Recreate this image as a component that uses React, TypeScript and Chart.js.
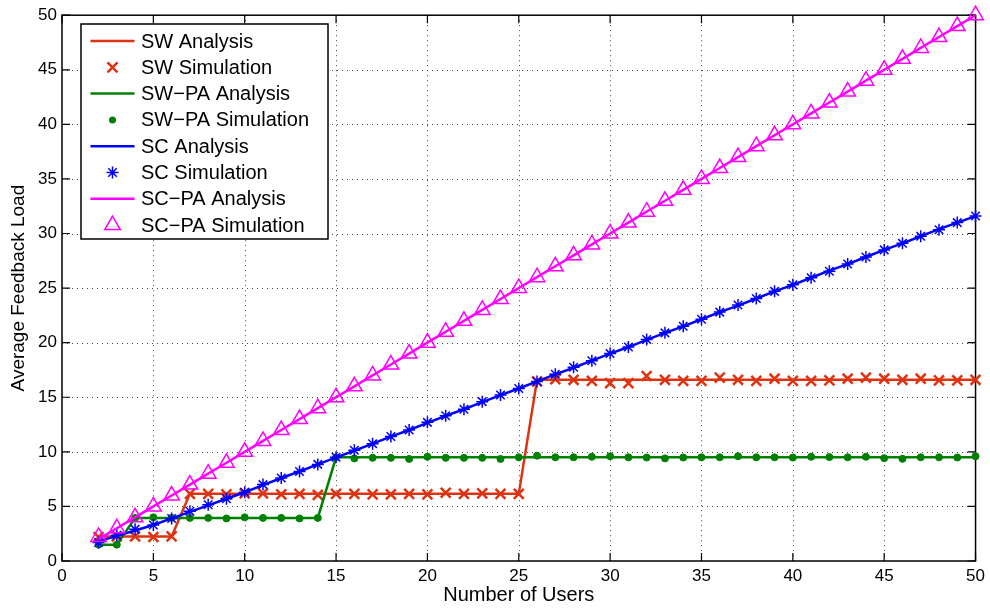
import React, { useEffect, useRef } from "react";
import { Chart, registerables } from "chart.js";

Chart.register(...registerables);

const users = [2, 3, 4, 5, 6, 7, 8, 9, 10, 11, 12, 13, 14, 15, 16, 17, 18, 19, 20, 21, 22, 23, 24, 25, 26, 27, 28, 29, 30, 31, 32, 33, 34, 35, 36, 37, 38, 39, 40, 41, 42, 43, 44, 45, 46, 47, 48, 49, 50];

const swAnalysis = [2.25, 2.25, 2.25, 2.25, 2.25, 6.15, 6.15, 6.15, 6.15, 6.15, 6.15, 6.15, 6.15, 6.15, 6.15, 6.15, 6.15, 6.15, 6.15, 6.15, 6.15, 6.15, 6.15, 6.15, 16.6, 16.6, 16.6, 16.6, 16.6, 16.6, 16.6, 16.6, 16.6, 16.6, 16.6, 16.6, 16.6, 16.6, 16.6, 16.6, 16.6, 16.6, 16.6, 16.6, 16.6, 16.6, 16.6, 16.6, 16.6];
const swSim = [2.2, 2.25, 2.25, 2.2, 2.25, 6.15, 6.15, 6.1, 6.2, 6.2, 6.1, 6.15, 6.05, 6.15, 6.15, 6.1, 6.1, 6.15, 6.1, 6.25, 6.15, 6.2, 6.15, 6.15, 16.45, 16.65, 16.6, 16.5, 16.3, 16.3, 16.95, 16.6, 16.5, 16.5, 16.8, 16.6, 16.5, 16.7, 16.5, 16.5, 16.55, 16.7, 16.8, 16.7, 16.6, 16.7, 16.55, 16.55, 16.6];

const swpaAnalysis = [1.5, 1.5, 3.95, 3.95, 3.95, 3.95, 3.95, 3.95, 3.95, 3.95, 3.95, 3.95, 3.95, 9.5, 9.5, 9.5, 9.5, 9.5, 9.5, 9.5, 9.5, 9.5, 9.5, 9.5, 9.5, 9.5, 9.5, 9.5, 9.5, 9.5, 9.5, 9.5, 9.5, 9.5, 9.5, 9.5, 9.5, 9.5, 9.5, 9.5, 9.5, 9.5, 9.5, 9.5, 9.5, 9.5, 9.5, 9.5, 9.5];
const swpaSim = [1.5, 1.5, 3.95, 4.0, 3.95, 3.95, 3.95, 3.9, 4.0, 3.95, 3.95, 3.9, 3.95, 9.5, 9.4, 9.45, 9.45, 9.35, 9.55, 9.45, 9.45, 9.45, 9.35, 9.5, 9.65, 9.5, 9.5, 9.55, 9.6, 9.5, 9.48, 9.4, 9.48, 9.5, 9.5, 9.6, 9.5, 9.5, 9.48, 9.55, 9.52, 9.5, 9.55, 9.42, 9.36, 9.5, 9.5, 9.48, 9.6];

const scAnalysis = [1.8, 2.3, 2.8, 3.3, 3.9, 4.5, 5.1, 5.7, 6.3, 6.95, 7.6, 8.2, 8.85, 9.5, 10.1, 10.75, 11.4, 12.0, 12.65, 13.3, 13.9, 14.55, 15.2, 15.8, 16.45, 17.1, 17.7, 18.35, 19.0, 19.6, 20.25, 20.9, 21.5, 22.15, 22.8, 23.4, 24.05, 24.7, 25.3, 25.95, 26.6, 27.2, 27.85, 28.5, 29.1, 29.75, 30.4, 31.0, 31.6];
const scSim = [1.7, 2.35, 2.9, 3.3, 3.9, 4.55, 5.15, 5.7, 6.3, 7.0, 7.6, 8.2, 8.85, 9.5, 10.15, 10.75, 11.4, 12.0, 12.7, 13.3, 13.9, 14.6, 15.2, 15.8, 16.45, 17.1, 17.75, 18.35, 19.0, 19.6, 20.3, 20.9, 21.5, 22.15, 22.8, 23.45, 24.05, 24.7, 25.3, 25.95, 26.55, 27.2, 27.85, 28.5, 29.1, 29.75, 30.35, 31.0, 31.6];

const scpaAnalysis = [2, 3, 4, 5, 6, 7, 8, 9, 10, 11, 12, 13, 14, 15, 16, 17, 18, 19, 20, 21, 22, 23, 24, 25, 26, 27, 28, 29, 30, 31, 32, 33, 34, 35, 36, 37, 38, 39, 40, 41, 42, 43, 44, 45, 46, 47, 48, 49, 50];
const scpaSim = [2.2, 3, 4, 5, 6, 7, 8, 9, 10, 11, 12, 13, 14, 15, 16, 17, 18, 19, 20, 21, 22, 23, 24, 25, 26, 27, 28, 29, 30, 31, 32, 33, 34, 35, 36, 37, 38, 39, 40, 41, 42, 43, 44, 45, 46, 47, 48, 49, 50];

const xTicks = [0, 5, 10, 15, 20, 25, 30, 35, 40, 45, 50];
const yTicks = [0, 5, 10, 15, 20, 25, 30, 35, 40, 45, 50];

const legendLabels = [
  "SW Analysis",
  "SW Simulation",
  "SW\u2212PA Analysis",
  "SW\u2212PA Simulation",
  "SC Analysis",
  "SC Simulation",
  "SC\u2212PA Analysis",
  "SC\u2212PA Simulation",
];

const RED = "#dd3311";
const GREEN = "#008000";
const BLUE = "#0000ff";
const MAGENTA = "#ff00ff";
const FONT = "'Liberation Sans', Arial, Helvetica, sans-serif";

const pts = (ys: number[]) => users.map((x, i) => ({ x, y: ys[i] }));

function drawMarker(ctx: CanvasRenderingContext2D, kind: string, x: number, y: number, color: string) {
  ctx.save();
  ctx.strokeStyle = color;
  ctx.fillStyle = color;
  ctx.setLineDash([]);
  if (kind === "line") {
    ctx.lineWidth = 2.5;
    ctx.beginPath();
    ctx.moveTo(x - 22, y);
    ctx.lineTo(x + 22, y);
    ctx.stroke();
  } else if (kind === "cross") {
    ctx.lineWidth = 2.5;
    const d = 5;
    ctx.beginPath();
    ctx.moveTo(x - d, y - d);
    ctx.lineTo(x + d, y + d);
    ctx.moveTo(x - d, y + d);
    ctx.lineTo(x + d, y - d);
    ctx.stroke();
  } else if (kind === "dot") {
    ctx.beginPath();
    ctx.arc(x, y, 3.5, 0, Math.PI * 2);
    ctx.fill();
  } else if (kind === "star") {
    ctx.lineWidth = 1.5;
    const r = 6;
    const d = r * Math.SQRT1_2;
    ctx.beginPath();
    ctx.moveTo(x - r, y);
    ctx.lineTo(x + r, y);
    ctx.moveTo(x, y - r);
    ctx.lineTo(x, y + r);
    ctx.moveTo(x - d, y - d);
    ctx.lineTo(x + d, y + d);
    ctx.moveTo(x - d, y + d);
    ctx.lineTo(x + d, y - d);
    ctx.stroke();
  } else if (kind === "tri") {
    ctx.lineWidth = 1.5;
    const r = 9;
    ctx.beginPath();
    ctx.moveTo(x, y - r);
    ctx.lineTo(x + r * 0.866, y + r * 0.5);
    ctx.lineTo(x - r * 0.866, y + r * 0.5);
    ctx.closePath();
    ctx.stroke();
  }
  ctx.restore();
}

const gridPlugin = {
  id: "matlabGrid",
  beforeDatasetsDraw(chart: any) {
    const { ctx, chartArea, scales } = chart;
    const { left, right, top, bottom } = chartArea;
    ctx.save();
    ctx.strokeStyle = "#444";
    ctx.lineWidth = 1;
    ctx.setLineDash([1, 4]);
    xTicks.forEach((v) => {
      const px = Math.round(scales.x.getPixelForValue(v)) + 0.5;
      if (px <= left + 1 || px >= right - 1) return;
      ctx.beginPath();
      ctx.moveTo(px, top);
      ctx.lineTo(px, bottom);
      ctx.stroke();
    });
    yTicks.forEach((v) => {
      const py = Math.round(scales.y.getPixelForValue(v)) + 0.5;
      if (py <= top + 1 || py >= bottom - 1) return;
      ctx.beginPath();
      ctx.moveTo(left, py);
      ctx.lineTo(right, py);
      ctx.stroke();
    });
    ctx.setLineDash([]);
    ctx.strokeStyle = "#000";
    ctx.lineWidth = 1.5;
    ctx.strokeRect(left, top, right - left, bottom - top);
    const tl = 8;
    ctx.lineWidth = 1.2;
    ctx.beginPath();
    xTicks.forEach((v) => {
      const px = scales.x.getPixelForValue(v);
      ctx.moveTo(px, bottom);
      ctx.lineTo(px, bottom - tl);
      ctx.moveTo(px, top);
      ctx.lineTo(px, top + tl);
    });
    yTicks.forEach((v) => {
      const py = scales.y.getPixelForValue(v);
      ctx.moveTo(left, py);
      ctx.lineTo(left + tl, py);
      ctx.moveTo(right, py);
      ctx.lineTo(right - tl, py);
    });
    ctx.stroke();
    ctx.restore();
  },
  afterDatasetsDraw(chart: any) {
    const { ctx } = chart;
    ctx.save();
    // legend box
    const bx = 81, by = 24, bw = 247, bh = 215;
    ctx.fillStyle = "#fff";
    ctx.fillRect(bx, by, bw, bh);
    ctx.lineWidth = 1.5;
    ctx.strokeStyle = "#000";
    ctx.setLineDash([]);
    ctx.strokeRect(bx, by, bw, bh);
    const kinds = ["line", "cross", "line", "dot", "line", "star", "line", "tri"];
    const colors = [RED, RED, GREEN, GREEN, BLUE, BLUE, MAGENTA, MAGENTA];
    ctx.font = `20px ${FONT}`;
    ctx.textBaseline = "middle";
    ctx.textAlign = "left";
    legendLabels.forEach((lab, i) => {
      const cy = 41 + i * 26.3;
      drawMarker(ctx, kinds[i], 112.5, cy, colors[i]);
      ctx.fillStyle = "#000";
      ctx.fillText(lab, 141, cy + 1);
    });
    ctx.restore();
  },
};

export default function App() {
  const ref = useRef<HTMLCanvasElement | null>(null);

  useEffect(() => {
    if (!ref.current) return;
    const lineDs = (label: string, data: number[], color: string, order: number) => ({
      label,
      data: pts(data),
      borderColor: color,
      backgroundColor: color,
      borderWidth: 2.5,
      pointRadius: 0,
      showLine: true,
      fill: false,
      tension: 0,
      order,
      clip: false,
    });
    const simDs = (label: string, data: number[], color: string, style: string, radius: number, bw: number, filled: boolean, order: number) => ({
      label,
      data: pts(data),
      borderColor: color,
      backgroundColor: filled ? color : "rgba(0,0,0,0)",
      pointStyle: style,
      pointRadius: radius,
      pointBorderWidth: bw,
      pointBackgroundColor: filled ? color : "rgba(0,0,0,0)",
      pointBorderColor: color,
      showLine: false,
      order,
      clip: false,
    });

    const chart = new Chart(ref.current, {
      type: "scatter",
      data: {
        datasets: [
          lineDs(legendLabels[0], swAnalysis, RED, 8),
          simDs(legendLabels[1], swSim, RED, "crossRot", 7, 2.5, false, 7),
          lineDs(legendLabels[2], swpaAnalysis, GREEN, 6),
          simDs(legendLabels[3], swpaSim, GREEN, "circle", 3.5, 1, true, 5),
          lineDs(legendLabels[4], scAnalysis, BLUE, 4),
          simDs(legendLabels[5], scSim, BLUE, "star", 6, 1.5, false, 3),
          lineDs(legendLabels[6], scpaAnalysis, MAGENTA, 2),
          simDs(legendLabels[7], scpaSim, MAGENTA, "triangle", 9, 1.5, false, 1),
        ] as any,
      },
      plugins: [gridPlugin],
      options: {
        animation: false,
        responsive: true,
        maintainAspectRatio: false,
        layout: { padding: { top: 11, right: 13, left: 0, bottom: 0 } },
        plugins: {
          legend: { display: false },
          tooltip: { enabled: false },
        },
        scales: {
          x: {
            type: "linear",
            min: 0,
            max: 50,
            afterFit: (s: any) => {
              s.height = 47;
            },
            afterBuildTicks: (s: any) => {
              s.ticks = xTicks.map((v) => ({ value: v }));
            },
            ticks: {
              color: "#000",
              font: { family: FONT, size: 17 },
              padding: 5,
              maxRotation: 0,
              autoSkip: false,
            },
            grid: { display: false, drawTicks: false },
            border: { display: false },
            title: {
              display: true,
              text: "Number of Users",
              color: "#000",
              font: { family: FONT, size: 20 },
              padding: { top: 0, bottom: 1 },
            },
          },
          y: {
            type: "linear",
            min: 0,
            max: 50,
            afterFit: (s: any) => {
              s.width = 62;
            },
            afterBuildTicks: (s: any) => {
              s.ticks = yTicks.map((v) => ({ value: v }));
            },
            ticks: {
              color: "#000",
              font: { family: FONT, size: 17 },
              padding: 5,
              autoSkip: false,
            },
            grid: { display: false, drawTicks: false },
            border: { display: false },
            title: {
              display: true,
              text: "Average Feedback Load",
              color: "#000",
              font: { family: FONT, size: 19 },
              padding: { top: 7, bottom: 0 },
            },
          },
        },
      } as any,
    });
    return () => chart.destroy();
  }, []);

  return (
    <div style={{ position: "absolute", left: 0, top: 0, width: 990, height: 608, background: "#fff" }}>
      <canvas ref={ref} />
    </div>
  );
}
